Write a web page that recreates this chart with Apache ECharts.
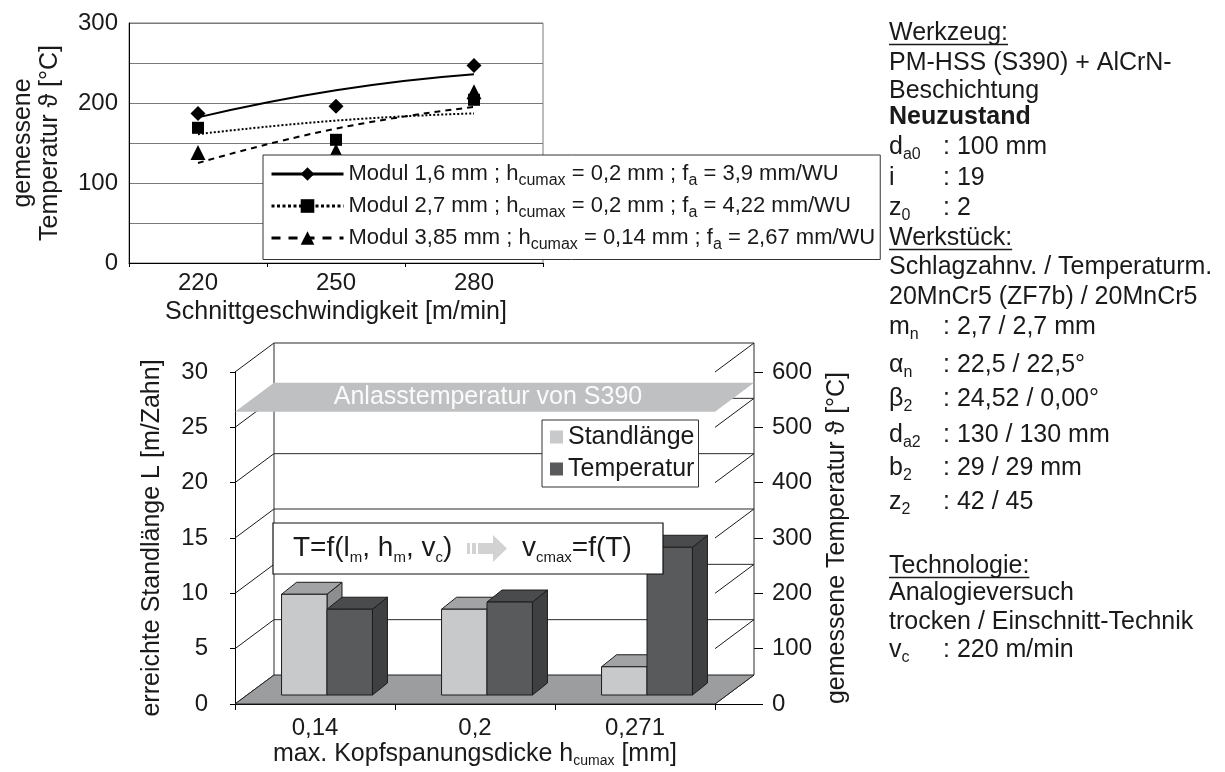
<!DOCTYPE html>
<html>
<head>
<meta charset="utf-8">
<title>Standlänge und Temperatur</title>
<script src="https://cdn.jsdelivr.net/npm/echarts@6.0.0/dist/echarts.min.js"></script>
<style>
html,body{margin:0;padding:0;background:#fff;}
#chart{width:1225px;height:772px;}
</style>
</head>
<body>
<div id="chart"></div>
<script>
// ================= DATA =================
// top chart: measured temperature vs cutting speed
const speedCategories = ['220', '250', '280'];
const seriesNames = [
  'Modul 1,6 mm ; hcumax = 0,2 mm ; fa = 3,9 mm/WU',
  'Modul 2,7 mm ; hcumax = 0,2 mm ; fa = 4,22 mm/WU',
  'Modul 3,85 mm ; hcumax = 0,14 mm ; fa = 2,67 mm/WU'
];
const legendParts = [
  ['Modul 1,6 mm ; h', 'cumax', ' = 0,2 mm ; f', 'a', ' = 3,9 mm/WU'],
  ['Modul 2,7 mm ; h', 'cumax', ' = 0,2 mm ; f', 'a', ' = 4,22 mm/WU'],
  ['Modul 3,85 mm ; h', 'cumax', ' = 0,14 mm ; f', 'a', ' = 2,67 mm/WU']
];
const tempModul16 = [187, 196, 247];
const tempModul27 = [169, 154, 204];
const tempModul385 = [138, 140, 214];
// trend lines
const trendModul16 = [182, 216, 236];
const trendModul27 = [161, 178, 187];
const trendModul385 = [125, 168, 195];
const topYLabels = [0, 100, 200, 300];

// bottom chart: tool life and temperature vs max. chip thickness
const hCategories = ['0,14', '0,2', '0,271'];
const standlaenge = [9.1, 7.75, 2.55];
const temperatur = [155, 168, 267];
const anlassTemperatur = [528];
const anlassLabel = 'Anlasstemperatur von S390';
const standTicks = [0, 5, 10, 15, 20, 25, 30];

// formula box
const formulaLeft = [['T=f(l', 0], ['m', 1], [', h', 0], ['m', 1], [', v', 0], ['c', 1], [')', 0]];
const formulaRight = [['v', 0], ['cmax', 1], ['=f(T)', 0]];

// info text on the right
const infoLines = [
  { head: 'Werkzeug:' },
  { text: 'PM-HSS (S390) + AlCrN-' },
  { text: 'Beschichtung' },
  { bold: 'Neuzustand' },
  { key: ['d', 'a0'], val: ': 100 mm' },
  { key: ['i', ''], val: ': 19' },
  { key: ['z', '0'], val: ': 2' },
  { head: 'Werkstück:' },
  { text: 'Schlagzahnv. / Temperaturm.' },
  { text: '20MnCr5 (ZF7b) / 20MnCr5' },
  { key: ['m', 'n'], val: ': 2,7 / 2,7 mm' },
  { key: ['α', 'n'], val: ': 22,5 / 22,5°' },
  { key: ['β', '2'], val: ': 24,52 / 0,00°' },
  { key: ['d', 'a2'], val: ': 130 / 130 mm' },
  { key: ['b', '2'], val: ': 29 / 29 mm' },
  { key: ['z', '2'], val: ': 42 / 45' },
  { head: 'Technologie:' },
  { text: 'Analogieversuch' },
  { text: 'trocken / Einschnitt-Technik' },
  { key: ['v', 'c'], val: ': 220 m/min' }
];

// ================= LAYOUT / STYLE =================
const FF = "'Liberation Sans', Arial, Helvetica, sans-serif";
const TXT = '#1a1a1a';
const infoX = 889, infoColonX = 943;
const infoY = [33, 63, 91, 117, 147, 178, 208, 238, 267, 297, 327, 365, 399, 435, 468, 502, 566, 593, 622, 650];
// 3D geometry (pixels)
const DX = 39, DY = -29;      // full depth of the plot box
const BX = 12, BY = -9;       // offset of bar front faces
const BDX = 15, BDY = -12;    // bar depth
const BAR_W = 0.284;          // bar width as share of category band

const mctx = document.createElement('canvas').getContext('2d');
function textW(t, font) { mctx.font = font; return mctx.measureText(t).width; }

function textEl(x, y, t, font, extra) {
  return Object.assign({
    type: 'text', x: x, y: y, z: 100, silent: true,
    style: { text: t, font: font, fill: TXT, align: 'left', verticalAlign: 'middle',
             textAlign: 'left', textVerticalAlign: 'middle' }
  }, extra || {});
}
function partsLine(x, y, parts, size, subSize, subDy, weight) {
  const els = [];
  let cx = x;
  parts.forEach(function (p) {
    const t = p[0], sub = p[1];
    if (!t) return;
    const fs = sub ? subSize : size;
    const font = (weight || 'normal') + ' ' + fs + 'px ' + FF;
    els.push(textEl(cx, y + (sub ? subDy : 0), t, font));
    cx += textW(t, font);
  });
  return { els: els, end: cx };
}

// ---- right info block ----
const INFO_FS = 25;
const graphics = [];
infoLines.forEach(function (ln, i) {
  const y = infoY[i];
  const f = INFO_FS + 'px ' + FF;
  if (ln.head) {
    graphics.push(textEl(infoX, y, ln.head, f));
    const w = textW(ln.head, f);
    graphics.push({ type: 'line', z: 100, silent: true,
      shape: { x1: infoX, y1: y + 11.5, x2: infoX + w, y2: y + 11.5 },
      style: { stroke: TXT, lineWidth: 1.5 } });
  } else if (ln.text) {
    graphics.push(textEl(infoX, y, ln.text, f));
  } else if (ln.bold) {
    graphics.push(textEl(infoX, y, ln.bold, 'bold ' + f));
  } else if (ln.key) {
    partsLine(infoX, y, [[ln.key[0], 0], [ln.key[1], 1]], INFO_FS, 16, 8).els.forEach(function (e) { graphics.push(e); });
    graphics.push(textEl(infoColonX, y, ln.val, f));
  }
});

// ---- formula box with arrow ----
graphics.push({ type: 'rect', z: 99, silent: true,
  shape: { x: 273, y: 523, width: 390, height: 51 },
  style: { fill: '#fff', stroke: '#111', lineWidth: 1.2 } });
partsLine(293, 548, formulaLeft, 28, 15, 9.5).els.forEach(function (e) { graphics.push(e); });
partsLine(522, 548, formulaRight, 28, 15, 9.5).els.forEach(function (e) { graphics.push(e); });
const ARW = '#d2d2d2';
graphics.push({ type: 'rect', z: 100, silent: true, shape: { x: 467, y: 543, width: 3, height: 11 }, style: { fill: ARW } });
graphics.push({ type: 'rect', z: 100, silent: true, shape: { x: 472, y: 543, width: 4, height: 11 }, style: { fill: ARW } });
graphics.push({ type: 'rect', z: 100, silent: true, shape: { x: 478, y: 543, width: 16, height: 11 }, style: { fill: ARW } });
graphics.push({ type: 'polygon', z: 100, silent: true, shape: { points: [[493, 535], [507, 548.5], [493, 562]] }, style: { fill: ARW } });

// ---- legend rich text ----
const legendRich = {};
seriesNames.forEach(function (n, i) {
  const p = legendParts[i];
  legendRich[n] = '{a|' + p[0] + '}{s|' + p[1] + '}{a|' + p[2] + '}{s|' + p[3] + '}{a|' + p[4] + '}';
});

// ---- custom renderers for the pseudo 3D bar chart ----
function sceneRender(params, api) {
  const cs = params.coordSys;
  const xl = cs.x, xr = cs.x + cs.width;
  const yOf = function (v) { return api.coord([0, v])[1]; };
  const ytop = yOf(standTicks[standTicks.length - 1]);
  const y0 = yOf(0);
  const ch = [];
  ch.push({ type: 'polygon', shape: { points: [[xl + DX, ytop + DY], [xr + DX, ytop + DY], [xr + DX, y0 + DY], [xl + DX, y0 + DY]] },
            style: { fill: '#fff', stroke: null } });
  standTicks.forEach(function (v) {
    const y = yOf(v);
    if (v > 0) ch.push({ type: 'line', shape: { x1: xl + DX, y1: y + DY, x2: xr + DX, y2: y + DY }, style: { stroke: '#2a2a2a', lineWidth: 1 } });
    ch.push({ type: 'line', shape: { x1: xl, y1: y, x2: xl + DX, y2: y + DY }, style: { stroke: '#1a1a1a', lineWidth: 1 } });
    ch.push({ type: 'line', shape: { x1: xr, y1: y, x2: xr + DX, y2: y + DY }, style: { stroke: '#1a1a1a', lineWidth: 1 } });
  });
  ch.push({ type: 'line', shape: { x1: xl + DX, y1: ytop + DY, x2: xl + DX, y2: y0 + DY }, style: { stroke: '#2a2a2a', lineWidth: 1 } });
  ch.push({ type: 'line', shape: { x1: xr + DX, y1: ytop + DY, x2: xr + DX, y2: y0 + DY }, style: { stroke: '#2a2a2a', lineWidth: 1 } });
  ch.push({ type: 'polygon', shape: { points: [[xl, y0], [xr, y0], [xr + DX, y0 + DY], [xl + DX, y0 + DY]] },
            style: { fill: '#9c9d9f', stroke: '#222', lineWidth: 1 } });
  return { type: 'group', children: ch };
}
function bandRender(params, api) {
  const cs = params.coordSys;
  const xl = cs.x, xr = cs.x + cs.width;
  const y = api.coord([0, api.value(1)])[1];
  return { type: 'group', children: [
    { type: 'polygon', shape: { points: [[xl, y], [xr, y], [xr + DX, y + DY], [xl + DX, y + DY]] },
      style: { fill: '#bfc0c2', stroke: null } },
    { type: 'text', x: (xl + xr) / 2 + 13, y: y + DY / 2,
      style: { text: anlassLabel, fill: '#fbfbfb', font: '25px ' + FF, align: 'center', verticalAlign: 'middle',
               textAlign: 'center', textVerticalAlign: 'middle' } }
  ] };
}
function barRender(kind) {
  const cols = kind === 'light'
    ? { front: '#c8c9cb', top: '#a2a3a5', side: '#8d8e90' }
    : { front: '#595a5c', top: '#4a4b4d', side: '#3f4042' };
  return function (params, api) {
    const cat = api.value(0), v = api.value(1);
    const base = api.coord([cat, 0]);
    const top = api.coord([cat, v]);
    const w = api.size([1, 0])[0] * BAR_W;
    const x0 = base[0] + BX + (kind === 'light' ? -w : 0);
    const x1 = x0 + w;
    const yb = base[1] + BY, yt = top[1] + BY;
    const st = { stroke: '#1c1c1c', lineWidth: 1 };
    return { type: 'group', children: [
      { type: 'polygon', shape: { points: [[x1, yt], [x1 + BDX, yt + BDY], [x1 + BDX, yb + BDY], [x1, yb]] },
        style: Object.assign({ fill: cols.side }, st) },
      { type: 'polygon', shape: { points: [[x0, yt], [x1, yt], [x1 + BDX, yt + BDY], [x0 + BDX, yt + BDY]] },
        style: Object.assign({ fill: cols.top }, st) },
      { type: 'rect', shape: { x: x0, y: yt, width: w, height: yb - yt },
        style: Object.assign({ fill: cols.front }, st) }
    ] };
  };
}

const richSub = function (size, lh, subSize, pad) {
  return { a: { fontSize: size, lineHeight: lh, color: TXT, fontFamily: FF },
           s: { fontSize: subSize, padding: [pad, 0, 0, 0], color: TXT, fontFamily: FF } };
};

const axisBlack = { lineStyle: { color: '#000', width: 1 } };

const option = {
  animation: false,
  textStyle: { fontFamily: FF, color: TXT },
  grid: [
    { left: 129, top: 23, width: 414, height: 240, show: true, borderColor: '#7a7a7a', borderWidth: 1,
      backgroundColor: '#fff', containLabel: false, outerBoundsMode: 'none' },
    { left: 235, top: 372, width: 480, height: 332, containLabel: false, outerBoundsMode: 'none' }
  ],
  xAxis: [
    { gridIndex: 0, type: 'category', data: speedCategories, boundaryGap: true,
      axisLine: axisBlack, axisTick: { show: true, length: 4, lineStyle: { color: '#000' } },
      axisLabel: { fontSize: 24, color: TXT, margin: 8 },
      name: 'Schnittgeschwindigkeit [m/min]', nameLocation: 'middle', nameGap: 37, nameMoveOverlap: false,
      nameTextStyle: { fontSize: 25, color: TXT } },
    { gridIndex: 1, type: 'category', data: hCategories, boundaryGap: true,
      axisLine: axisBlack, axisTick: { show: true, length: 6, lineStyle: { color: '#000' } },
      axisLabel: { fontSize: 24, color: TXT, margin: 12 },
      name: '{a|max. Kopfspanungsdicke h}{s|cumax}{a| [mm]}', nameLocation: 'middle', nameGap: 37, nameMoveOverlap: false,
      nameTextStyle: { fontSize: 25, color: TXT, rich: richSub(25, 26, 14, 13) } }
  ],
  yAxis: [
    { gridIndex: 0, type: 'value', min: 0, max: 300, interval: 50,
      axisLine: Object.assign({ show: true }, axisBlack), axisTick: { show: false },
      axisLabel: { fontSize: 24, color: TXT, margin: 11,
        formatter: function (v) { return topYLabels.indexOf(v) >= 0 ? String(v) : ''; } },
      splitLine: { show: true, lineStyle: { color: '#7a7a7a', width: 1 } },
      name: 'gemessene\nTemperatur ϑ [°C]', nameLocation: 'middle', nameRotate: 90, nameGap: 65, nameMoveOverlap: false,
      nameTextStyle: { fontSize: 25, lineHeight: 27, color: TXT } },
    { gridIndex: 1, type: 'value', min: 0, max: 30, interval: 5, position: 'left',
      axisLine: Object.assign({ show: true }, axisBlack), axisTick: { show: true, length: 5, lineStyle: { color: '#000' } },
      axisLabel: { fontSize: 24, color: TXT, margin: 27 }, splitLine: { show: false },
      name: 'erreichte Standlänge L [m/Zahn]', nameLocation: 'middle', nameRotate: 90, nameGap: 70, nameMoveOverlap: false,
      nameTextStyle: { fontSize: 25, color: TXT } },
    { gridIndex: 1, type: 'value', min: 0, max: 600, interval: 100, position: 'right',
      axisLine: Object.assign({ show: true }, axisBlack), axisTick: { show: true, length: 48, lineStyle: { color: '#000' } },
      axisLabel: { fontSize: 24, color: TXT, margin: 57 }, splitLine: { show: false },
      name: 'gemessene Temperatur ϑ [°C]', nameLocation: 'middle', nameRotate: 90, nameGap: 110, nameMoveOverlap: false,
      nameTextStyle: { fontSize: 25, color: TXT } }
  ],
  legend: [
    { orient: 'vertical', left: 263, top: 155, padding: [8, 5, 7, 7], itemGap: 6.5,
      itemWidth: 72, itemHeight: 17, backgroundColor: '#fff', borderColor: '#333', borderWidth: 1,
      selectedMode: false,
      data: [
        { name: seriesNames[0], lineStyle: { type: 'solid', width: 3, opacity: 1, color: '#000' } },
        { name: seriesNames[1], lineStyle: { type: [3, 2.5], width: 3, opacity: 1, color: '#000' } },
        { name: seriesNames[2], lineStyle: { type: [9, 8], width: 3, opacity: 1, color: '#000' } }
      ],
      formatter: function (n) { return legendRich[n]; },
      textStyle: { fontSize: 22, color: TXT, rich: richSub(22, 26, 16, 13) } },
    { orient: 'vertical', left: 542, top: 420, padding: [3, 4, 4, 8], itemGap: 4,
      itemWidth: 13, itemHeight: 13, icon: 'rect', backgroundColor: '#fff', borderColor: '#333', borderWidth: 1,
      selectedMode: false,
      data: ['Standlänge', 'Temperatur'],
      textStyle: { fontSize: 25, lineHeight: 28, color: TXT } }
  ],
  series: [
    // trend lines (top chart)
    { type: 'line', name: 'trend16', xAxisIndex: 0, yAxisIndex: 0, data: trendModul16, smooth: 0.5, symbol: 'none',
      silent: true, lineStyle: { color: '#000', width: 2, type: 'solid' }, z: 2 },
    { type: 'line', name: 'trend27', xAxisIndex: 0, yAxisIndex: 0, data: trendModul27, smooth: 0.5, symbol: 'none',
      silent: true, lineStyle: { color: '#000', width: 2, type: [2, 2] }, z: 2 },
    { type: 'line', name: 'trend385', xAxisIndex: 0, yAxisIndex: 0, data: trendModul385, smooth: 0.5, symbol: 'none',
      silent: true, lineStyle: { color: '#000', width: 2, type: [6, 5] }, z: 2 },
    // measured points (top chart)
    { type: 'line', name: seriesNames[0], xAxisIndex: 0, yAxisIndex: 0, data: tempModul16, symbol: 'diamond', symbolSize: 15,
      itemStyle: { color: '#000' }, lineStyle: { opacity: 0, type: 'solid', width: 3, color: '#000' }, silent: true, z: 3 },
    { type: 'line', name: seriesNames[1], xAxisIndex: 0, yAxisIndex: 0, data: tempModul27, symbol: 'rect', symbolSize: 12,
      itemStyle: { color: '#000' }, lineStyle: { opacity: 0, type: 'dotted', width: 3, color: '#000' }, silent: true, z: 3 },
    { type: 'line', name: seriesNames[2], xAxisIndex: 0, yAxisIndex: 0, data: tempModul385, symbol: 'triangle', symbolSize: 15,
      itemStyle: { color: '#000' }, lineStyle: { opacity: 0, type: 'dashed', width: 3, color: '#000' }, silent: true, z: 3 },
    // pseudo 3D scene (bottom chart)
    { type: 'custom', name: 'scene', xAxisIndex: 1, yAxisIndex: 1, data: [[0, 0]], renderItem: sceneRender,
      clip: false, silent: true, z: 1 },
    { type: 'custom', name: 'anlass', xAxisIndex: 1, yAxisIndex: 2, data: anlassTemperatur.map(function (v) { return [0, v]; }),
      renderItem: bandRender, clip: false, silent: true, z: 2 },
    { type: 'custom', name: 'Standlänge', xAxisIndex: 1, yAxisIndex: 1,
      data: standlaenge.map(function (v, i) { return [i, v]; }), renderItem: barRender('light'),
      itemStyle: { color: '#c8c9cb' }, clip: false, silent: true, z: 3 },
    { type: 'custom', name: 'Temperatur', xAxisIndex: 1, yAxisIndex: 2,
      data: temperatur.map(function (v, i) { return [i, v]; }), renderItem: barRender('dark'),
      itemStyle: { color: '#595a5c' }, clip: false, silent: true, z: 4 }
  ],
  graphic: { elements: graphics }
};

const chart = echarts.init(document.getElementById('chart'), null, { renderer: 'canvas' });
chart.setOption(option);
</script>
</body>
</html>
